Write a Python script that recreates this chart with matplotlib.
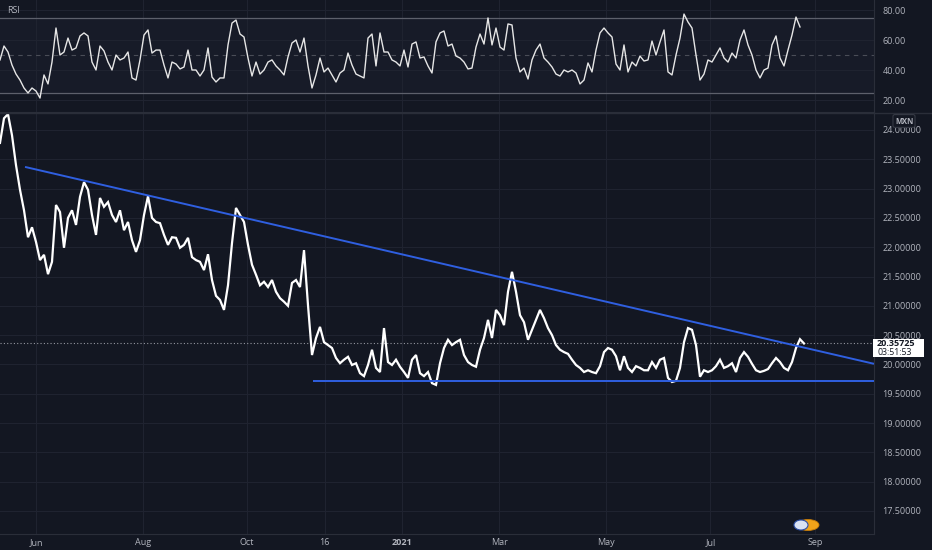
import numpy as np
import matplotlib
matplotlib.use("Agg")
import matplotlib.pyplot as plt
from matplotlib.patches import Rectangle, Ellipse

# ---------------- data ----------------
price_close = [
    23.78, 24.20, 24.27, 23.91, 23.40, 22.98, 22.63, 22.17, 22.34, 22.09,
    21.78, 21.87, 21.54, 21.75, 22.72, 22.60, 21.99, 22.50, 22.63, 22.38,
    22.86, 23.11, 22.98, 22.55, 22.21, 22.84, 22.69, 22.77, 22.55, 22.43,
    22.63, 22.29, 22.43, 22.12, 21.92, 22.12, 22.55, 22.87, 22.50, 22.43,
    22.41, 22.21, 22.04, 22.17, 22.16, 21.99, 22.04, 22.16, 21.83, 21.78,
    21.75, 21.61, 21.88, 21.44, 21.17, 21.10, 20.93, 21.35, 22.07, 22.67,
    22.55, 22.43, 22.04, 21.70, 21.53, 21.35, 21.41, 21.32, 21.44, 21.24,
    21.13, 21.07, 21.00, 21.39, 21.44, 21.32, 21.95, 21.01, 20.16, 20.45,
    20.64, 20.38, 20.33, 20.28, 20.11, 20.02, 20.08, 20.13, 19.99, 20.02,
    19.85, 19.80, 19.99, 20.25, 19.94, 19.87, 20.62, 20.04, 19.99, 20.08,
    19.96, 19.87, 19.77, 20.08, 20.16, 19.85, 19.80, 19.87, 19.68, 19.65,
    20.02, 20.28, 20.42, 20.33, 20.38, 20.42, 20.16, 20.04, 19.99, 19.96,
    20.25, 20.45, 20.76, 20.45, 20.93, 20.84, 20.67, 21.24, 21.58, 21.24,
    20.84, 20.72, 20.42, 20.59, 20.76, 20.93, 20.79, 20.62, 20.50, 20.33,
    20.25, 20.21, 20.18, 20.08, 19.99, 19.94, 19.87, 19.90, 19.87, 19.85,
    19.97, 20.21, 20.28, 20.25, 20.14, 19.90, 20.14, 19.94, 19.87, 19.97,
    19.94, 19.90, 19.90, 20.04, 19.94, 20.08, 20.11, 19.77, 19.70, 19.72,
    19.94, 20.38, 20.62, 20.59, 20.33, 19.79, 19.90, 19.87, 19.90, 19.97,
    20.08, 19.94, 19.97, 20.02, 19.87, 20.11, 20.21, 20.13, 20.01, 19.90,
    19.87, 19.89, 19.92, 20.02, 20.11, 20.04, 19.94, 19.90, 20.04, 20.28,
    20.43, 20.35725,
]

rsi_values = [
    46.7, 56.0, 52.0, 43.3, 37.3, 33.3, 28.0, 24.7, 28.0, 26.0,
    21.3, 36.7, 30.7, 45.3, 68.0, 50.0, 52.0, 61.3, 53.3, 54.7,
    62.7, 64.7, 62.7, 45.3, 40.0, 56.0, 52.7, 45.3, 40.0, 50.0,
    46.7, 48.0, 52.0, 34.7, 33.3, 46.7, 63.3, 66.7, 51.3, 53.3,
    53.3, 43.3, 34.7, 45.3, 44.0, 40.7, 42.0, 53.3, 40.0, 40.0,
    36.0, 40.0, 54.7, 35.3, 32.0, 34.7, 34.7, 56.7, 71.3, 73.3,
    64.0, 62.0, 48.0, 36.0, 45.3, 37.3, 40.0, 45.3, 46.7, 42.7,
    40.0, 36.7, 48.7, 58.0, 60.0, 52.0, 61.3, 42.7, 28.0, 36.7,
    48.0, 38.7, 41.3, 36.7, 32.0, 38.0, 40.0, 51.3, 43.3, 37.3,
    36.0, 34.7, 61.3, 64.0, 42.7, 64.7, 52.0, 52.0, 46.7, 45.3,
    42.7, 53.3, 42.0, 57.3, 58.7, 48.0, 48.7, 42.7, 38.0, 58.7,
    64.7, 66.0, 56.0, 57.3, 49.3, 48.0, 45.3, 40.7, 41.3, 55.3,
    64.0, 57.3, 74.7, 56.7, 68.0, 55.3, 53.3, 70.7, 70.0, 48.0,
    38.7, 41.3, 34.0, 46.7, 53.3, 57.3, 48.0, 45.3, 42.0, 37.3,
    36.0, 40.0, 38.7, 40.0, 38.0, 30.7, 33.3, 44.7, 38.7, 53.3,
    64.7, 68.0, 64.7, 62.0, 44.0, 40.0, 56.7, 38.7, 45.3, 42.7,
    49.3, 46.0, 46.7, 59.3, 50.0, 58.7, 66.7, 38.7, 36.7, 50.0,
    61.3, 77.3, 72.0, 68.0, 50.0, 33.3, 37.3, 46.7, 45.3, 50.0,
    54.7, 48.0, 45.3, 51.3, 48.0, 60.0, 66.7, 56.7, 50.0, 40.0,
    34.7, 40.0, 41.3, 56.7, 62.7, 48.0, 42.7, 53.3, 63.3, 75.3,
    68.7,
]

# trendlines (bar index, price)
res_idx = [6.25, 218.5]
res_price = [23.37, 20.01]
sup_idx = [78.3, 218.5]
sup_price = [19.72, 19.72]

last_price = 20.35725
countdown = "03:51:53"
currency = "MXN"

time_labels = ["Jun", "Aug", "Oct", "16", "2021", "Mar", "May", "Jul", "Sep"]
time_pos = [9.0, 35.75, 61.75, 81.2, 100.5, 124.8, 151.4, 177.6, 203.8]

price_ticks = [17.5, 18.0, 18.5, 19.0, 19.5, 20.0, 20.5, 21.0, 21.5, 22.0,
               22.5, 23.0, 23.5, 24.0]
rsi_ticks = [20, 40, 60, 80]
rsi_upper, rsi_mid, rsi_lower = 75, 50, 25

# ---------------- style ----------------
BG = "#131722"
GRID = "#1f2330"
TXT = "#b2b5be"
SEP = "#2a2e39"
BLUE = "#2f5fe0"
FONT = "Open Sans"

W, H = 932, 550
fig = plt.figure(figsize=(W / 100, H / 100), dpi=100, facecolor=BG)

plot_right = 874 / W
ax_r = fig.add_axes([0, 1 - 112 / H, plot_right, 112 / H], facecolor=BG)
ax_p = fig.add_axes([0, 1 - 534 / H, plot_right, (534 - 113) / H], facecolor=BG)

xlim = (0, 218.5)

# ---------- RSI panel ----------
xr = np.arange(len(rsi_values))
ax_r.set_xlim(*xlim)
ax_r.set_ylim(12.0, 86.67)
ax_r.axhspan(rsi_lower, rsi_upper, color="#171b28", zorder=0)
for t in rsi_ticks:
    ax_r.axhline(t, color=GRID, lw=0.8, zorder=0.5)
for p in time_pos:
    ax_r.axvline(p, color=GRID, lw=0.8, zorder=0.5)
ax_r.axhline(rsi_upper, color="#5d606b", lw=0.9, zorder=1)
ax_r.axhline(rsi_lower, color="#5d606b", lw=0.9, zorder=1)
ax_r.axhline(rsi_mid, color="#4a4d57", lw=0.8, ls=(0, (4, 4)), zorder=1)
ax_r.plot(xr, rsi_values, color="#e6e6e6", lw=1.0, zorder=3)
ax_r.text(0.008, 0.91, "RSI", transform=ax_r.transAxes, color=TXT,
          fontsize=6.5, family=FONT, va="center", ha="left")
ax_r.yaxis.tick_right()
ax_r.set_yticks(rsi_ticks)
ax_r.set_yticklabels([f"{t:.2f}" for t in rsi_ticks])
ax_r.tick_params(axis="y", length=0, pad=6, labelcolor=TXT, labelsize=6.5)
ax_r.tick_params(axis="x", length=0, labelbottom=False)
for lab in ax_r.get_yticklabels():
    lab.set_family(FONT)
for s in ["top", "left"]:
    ax_r.spines[s].set_visible(False)
ax_r.spines["right"].set_color(SEP)
ax_r.spines["bottom"].set_color(SEP)

# ---------- Price panel ----------
xp = np.arange(len(price_close))
ax_p.set_xlim(*xlim)
ax_p.set_ylim(17.106, 24.29)
for t in price_ticks:
    ax_p.axhline(t, color=GRID, lw=0.8, zorder=0.5)
for p in time_pos:
    ax_p.axvline(p, color=GRID, lw=0.8, zorder=0.5)
ax_p.plot(xp, price_close, color="white", lw=1.6, zorder=3,
          solid_joinstyle="miter")
ax_p.plot(res_idx, res_price, color=BLUE, lw=1.4, zorder=4, solid_capstyle="butt")
ax_p.plot(sup_idx, sup_price, color=BLUE, lw=1.4, zorder=4, solid_capstyle="butt")
ax_p.axhline(last_price, color="#9598a1", lw=0.8, ls=(0, (1, 2)), zorder=2)

ax_p.yaxis.tick_right()
ax_p.set_yticks(price_ticks)
ax_p.set_yticklabels([f"{t:.5f}" for t in price_ticks])
ax_p.set_xticks(time_pos)
ax_p.set_xticklabels(time_labels)
ax_p.tick_params(axis="y", length=0, pad=6, labelcolor=TXT, labelsize=6.5)
ax_p.tick_params(axis="x", length=0, pad=3, labelcolor=TXT, labelsize=6.5)
for lab in ax_p.get_yticklabels() + ax_p.get_xticklabels():
    lab.set_family(FONT)
for lab in ax_p.get_xticklabels():
    if lab.get_text() == "2021":
        lab.set_fontweight("bold")
for s in ["top", "left"]:
    ax_p.spines[s].set_visible(False)
ax_p.spines["right"].set_color(SEP)
ax_p.spines["bottom"].set_color(SEP)

# separator between panels
fig.add_artist(plt.Line2D([0, 1], [1 - 112.5 / H] * 2, color=SEP, lw=1.0,
                          transform=fig.transFigure))

# last price box on the axis
fig.canvas.draw()
y_lp = ax_p.transData.transform((0, last_price))[1]
yf = y_lp / H
fig.add_artist(Rectangle((873 / W, yf - 13.5 / H), 51 / W, 18 / H,
                         transform=fig.transFigure, facecolor="white",
                         edgecolor="none", zorder=5))
fig.text(877 / W, yf - 0.5 / H, f"{last_price:.5f}", color="#131722",
         fontsize=6.5, family=FONT, fontweight="bold", va="center", ha="left",
         zorder=6)
fig.text(877 / W, yf - 9 / H, countdown, color="#131722", fontsize=6.3,
         family=FONT, va="center", ha="left", zorder=6)

# currency badge
fig.text(904 / W, 1 - 121 / H, currency, color=TXT, fontsize=5.5, family=FONT,
         fontweight="bold", va="center", ha="center",
         bbox=dict(boxstyle="round,pad=0.25", facecolor=BG, edgecolor="#363a45",
                   lw=0.8))

# event icon near the time axis
fig.add_artist(Ellipse((808 / W, 1 - 525 / H), 22 / W, 11 / H,
                       transform=fig.transFigure, facecolor="#f0a31a",
                       edgecolor="#c77d0a", lw=0.6))
fig.add_artist(Ellipse((801 / W, 1 - 525 / H), 14 / W, 10 / H,
                       transform=fig.transFigure, facecolor="#d9e2f5",
                       edgecolor="#2c4fa8", lw=0.8))

fig.savefig("out.png", dpi=100, facecolor=BG)
